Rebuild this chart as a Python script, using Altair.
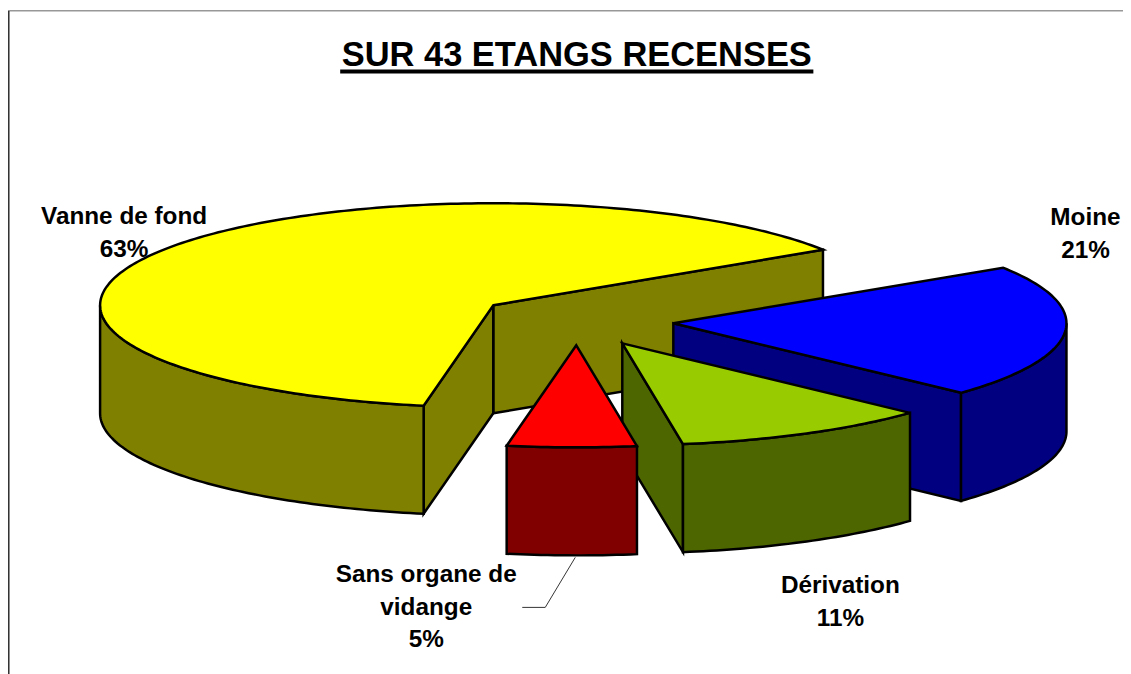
import math
import altair as alt

# Chart values (labels show them rounded)
categories = ["Vanne de fond", "Sans organe de vidange", "Dérivation", "Moine"]
values = [63, 5.3, 10.6, 21.1]
top_colors = ["#FFFF00", "#FF0000", "#99CC00", "#0000FF"]
wall_colors = ["#808000", "#800000", "#4D6600", "#000080"]
label_lines = [["Vanne de fond", "63%"], ["Sans organe de", "vidange", "5%"],
               ["Dérivation", "11%"], ["Moine", "21%"]]
label_x = [124, 426, 840, 1085]
label_y = [224, 582, 593, 225]
line_gap = 32.5
title = "SUR 43 ETANGS RECENSES"

# 3-D pie layout
cx, cy, rx, ry, depth = 493, 305, 393, 102, 108
start_angle = 33.0
offsets = [(0, 0), (83, 40), (129, 38), (180, 18)]


def pt(t, ox, oy, dz=0):
    a = math.radians(t)
    return [cx + ox + rx * math.cos(a), cy + oy - ry * math.sin(a) + dz]


def arc(t0, t1, ox, oy, dz=0):
    n = max(2, int(abs(t1 - t0)) + 1)
    return [pt(t0 + (t1 - t0) * i / (n - 1), ox, oy, dz) for i in range(n)]


def poly(points, fill):
    ring = points + [points[0]]
    return {"type": "Feature", "properties": {"fill": fill},
            "geometry": {"type": "Polygon", "coordinates": [ring]}}


def line(points, width, colour):
    return {"type": "Feature", "properties": {"w": width, "c": colour},
            "geometry": {"type": "LineString", "coordinates": points}}


# sweep angles from the values
spans = []
t = start_angle
for v in values:
    spans.append((t, t + v * 3.6))
    t += v * 3.6

features = {}
for i in range(4):
    t0, t1 = spans[i]
    ox, oy = offsets[i]
    apex = [cx + ox, cy + oy]
    apex_low = [cx + ox, cy + oy + depth]
    faces = []
    # inner walls that face the viewer
    if i == 0:
        faces.append(poly([apex, pt(t0, ox, oy), pt(t0, ox, oy, depth), apex_low], wall_colors[i]))
        faces.append(poly([apex, pt(t1, ox, oy), pt(t1, ox, oy, depth), apex_low], wall_colors[i]))
    if i == 2:
        faces.append(poly([apex, pt(t0, ox, oy), pt(t0, ox, oy, depth), apex_low], wall_colors[i]))
    if i == 3:
        faces.append(poly([apex, pt(t0, ox, oy), pt(t0, ox, oy, depth), apex_low], wall_colors[i]))
    # outer wall: front half of the ellipse only
    a0, a1 = max(t0, 180), min(t1, 360)
    if a1 > a0:
        faces.append(poly(arc(a0, a1, ox, oy) + arc(a1, a0, ox, oy, depth), wall_colors[i]))
    # top face
    faces.append(poly([apex] + arc(t0, t1, ox, oy), top_colors[i]))
    features[i] = faces

draw_order = [0, 3, 2, 1]
shapes = [f for i in draw_order for f in features[i]]

lines = [
    line([[8.3, 690], [8.3, 10], [1145, 10]], 2.4, "#333333"),
    line([[340, 71.3], [813, 71.3]], 4, "#000000"),
    line([[575, 557], [545, 607], [522, 607]], 1, "#333333"),
]

proj = {"type": "identity", "scale": 1.00756, "translate": [-8, -10.3]}

shape_layer = alt.Chart(alt.Data(values=shapes)).mark_geoshape(
    stroke="#000000", strokeWidth=2.5, strokeJoin="miter"
).encode(fill=alt.Fill("properties.fill:N", scale=None)).project(**proj)

line_layer = alt.Chart(alt.Data(values=lines)).mark_geoshape(filled=False).encode(
    strokeWidth=alt.StrokeWidth("properties.w:Q", scale=None),
    stroke=alt.Stroke("properties.c:N", scale=None),
).project(**proj)

label_rows = []
for lines_, lx, ly in zip(label_lines, label_x, label_y):
    for j, txt in enumerate(lines_):
        label_rows.append({"t": txt, "lon": lx, "lat": ly + j * line_gap})

label_layer = alt.Chart(alt.Data(values=label_rows)).mark_text(
    font="Liberation Sans", fontWeight="bold", fontSize=24.5, color="#000000",
    align="center", baseline="alphabetic",
).encode(longitude="lon:Q", latitude="lat:Q", text="t:N").project(**proj)

title_layer = alt.Chart(alt.Data(values=[{"t": title, "lon": 576.5, "lat": 66}])).mark_text(
    font="Liberation Sans", fontWeight="bold", fontSize=34.7, color="#000000",
    align="center", baseline="alphabetic",
).encode(longitude="lon:Q", latitude="lat:Q", text="t:N").project(**proj)

chart = alt.layer(shape_layer, line_layer, label_layer, title_layer).properties(
    width=1123, height=672, padding=0,
    autosize=alt.AutoSizeParams(type="none"), background="#FFFFFF",
).configure_view(stroke=None)

chart.save("out.html", embed_options={"renderer": "svg", "actions": False})
